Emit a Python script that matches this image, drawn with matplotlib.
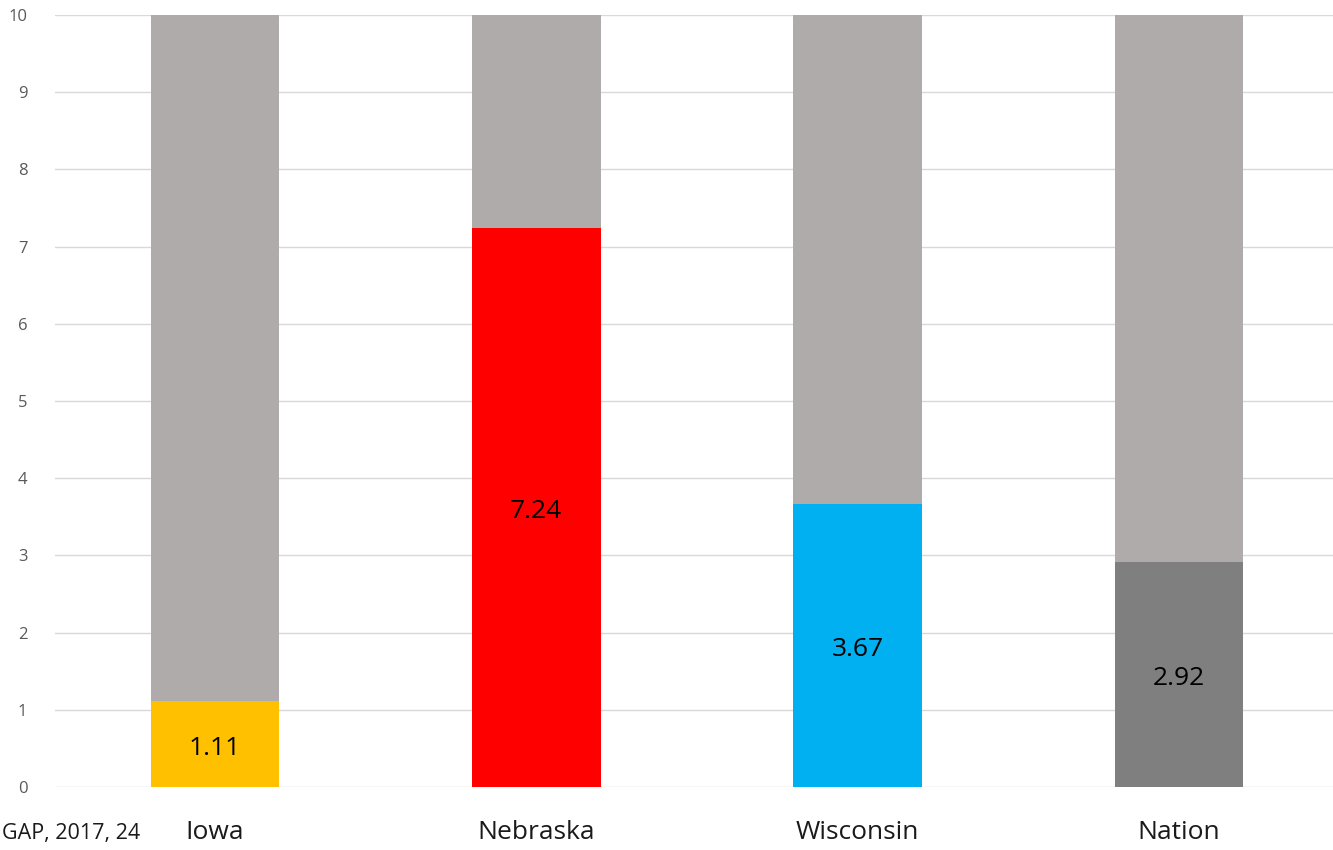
import matplotlib
matplotlib.use("Agg")
import matplotlib.pyplot as plt

# remaining share out of 10, stacked on the coloured value
states = ["Iowa", "Nebraska", "Wisconsin", "Nation"]
values = [1.11, 7.24, 3.67, 2.92]
total = 10
colors = ["#FFC000", "#FF0000", "#00B0F0", "#7F7F7F"]
REST = "#AFABAB"
source = "GAP, 2017, 24"

plt.rcParams["font.family"] = ["Open Sans", "DejaVu Sans"]

fig = plt.figure(figsize=(13.33, 8.5), dpi=100)
ax = fig.add_axes([0.0413, 0.0741, 0.9587, 0.9083])

x = list(range(len(states)))
rest = [total - v for v in values]
ax.bar(x, values, width=0.4, color=colors, zorder=2)
ax.bar(x, rest, bottom=values, width=0.4, color=REST, zorder=2)

for xi, v in zip(x, values):
    ax.text(xi, v / 2 - 0.05, f"{v:.2f}", ha="center", va="center", fontsize=19,
            color="black", zorder=3)

ax.set_xlim(-0.498, 3.48)
ax.set_ylim(0, 10)
ax.set_yticks(range(0, 11))
ax.yaxis.grid(True, color="#D9D9D9", lw=1, zorder=0)
ax.set_xticks(x)
ax.set_xticklabels(states, fontsize=19, color="#1a1a1a")
ax.tick_params(axis="x", length=0, pad=24)
ax.tick_params(axis="y", length=0, pad=20, labelsize=12, labelcolor="#595959")
for s in ax.spines.values():
    s.set_visible(False)

fig.text(2 / 1333, 1 - 834 / 850, source, ha="left", va="center", fontsize=15.5, color="#1a1a1a")

fig.savefig("out.png", dpi=100)
